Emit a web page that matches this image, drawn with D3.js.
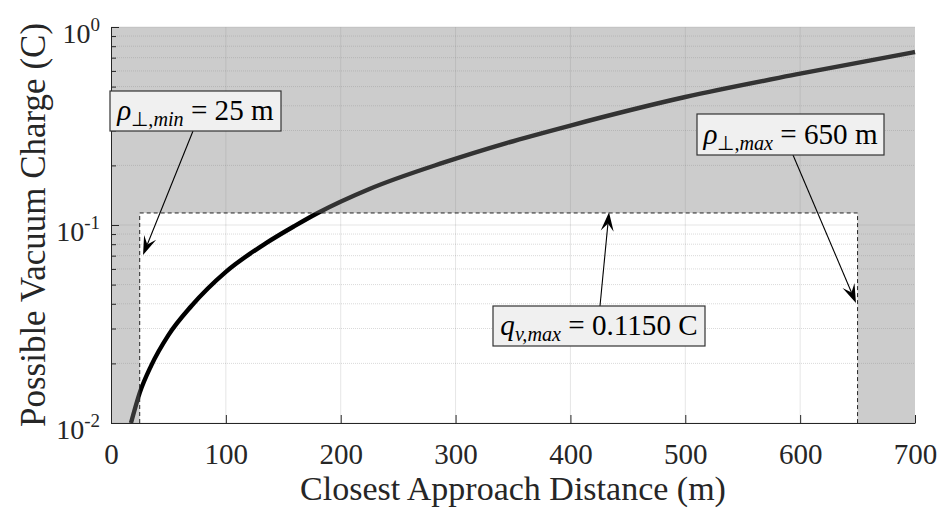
<!DOCTYPE html>
<meta charset="utf-8">
<head>
<title>Vacuum charge</title>
<script src="https://d3js.org/d3.v7.min.js"></script>
<style>
  body { margin: 0; background: #fff; }
  text { font-family: "Liberation Serif", "Times New Roman", serif; fill: #262626; }
</style>
</head>
<body>
<div id="chart"></div>
<script>

// values
let distance = [17.4, 25, 35, 50, 70, 100, 135, 160, 180, 225, 290, 345, 400, 500, 600, 700];
let charge = [0.0100, 0.0142, 0.0195, 0.0278, 0.0390, 0.0580, 0.0810, 0.0990, 0.1150, 0.1520, 0.2070, 0.2600, 0.3180, 0.4430, 0.5810, 0.7480];
let rhoMin = 25;
let rhoMax = 650;
let qMax = 0.115;
let xTicks = [0, 100, 200, 300, 400, 500, 600, 700];
let yDecades = [0.01, 0.1, 1];
let yExponents = ["-2", "-1", "0"];

let w = 940, h = 508;
let pLeft = 111, pRight = 915, pTop = 27, pBottom = 423;

let svg = d3.select("#chart").append("svg")
    .attr("width", w)
    .attr("height", h);

let x = d3.scaleLinear().domain([0, 700]).range([pLeft, pRight]);
let y = d3.scaleLog().domain([0.01, 1]).range([pBottom, pTop]);

// grid
let grid = svg.append("g");
let minor = y.ticks().filter(v => yDecades.indexOf(v) < 0);
grid.selectAll(".minor")
    .data(minor)
    .enter()
    .append("line")
    .attr("x1", pLeft).attr("x2", pRight)
    .attr("y1", d => y(d)).attr("y2", d => y(d))
    .style("stroke", "#000")
    .style("stroke-opacity", 0.15)
    .style("stroke-dasharray", "1,1");
grid.selectAll(".hmaj")
    .data(yDecades)
    .enter()
    .append("line")
    .attr("x1", pLeft).attr("x2", pRight)
    .attr("y1", d => y(d)).attr("y2", d => y(d))
    .style("stroke", "#000")
    .style("stroke-opacity", 0.1);
grid.selectAll(".vmaj")
    .data(xTicks.slice(1, -1))
    .enter()
    .append("line")
    .attr("x1", d => x(d)).attr("x2", d => x(d))
    .attr("y1", pTop).attr("y2", pBottom)
    .style("stroke", "#000")
    .style("stroke-opacity", 0.1);

// curve
let pts = distance.map((d, i) => [d, charge[i]]);
let line = d3.line()
    .x(d => x(d[0]))
    .y(d => y(d[1]))
    .curve(d3.curveMonotoneX);
svg.append("path")
    .datum(pts)
    .attr("d", line)
    .style("fill", "none")
    .style("stroke", "#000")
    .style("stroke-width", 4.4);

// grey region outside the allowed rectangle
let outer = "M" + pLeft + "," + pTop + "H" + pRight + "V" + pBottom + "H" + pLeft + "Z";
let inner = "M" + x(rhoMin) + "," + y(qMax) + "H" + x(rhoMax) + "V" + pBottom + "H" + x(rhoMin) + "Z";
svg.append("path")
    .attr("d", outer + inner)
    .style("fill-rule", "evenodd")
    .style("fill", "#808080")
    .style("fill-opacity", 0.4);

// dashed rectangle
svg.append("path")
    .attr("d", "M" + x(rhoMin) + "," + pBottom + "V" + y(qMax) + "H" + x(rhoMax) + "V" + pBottom)
    .style("fill", "none")
    .style("stroke", "#222")
    .style("stroke-width", 1)
    .style("stroke-dasharray", "4,3");

// axes
let xAxis = svg.append("g")
    .attr("transform", "translate(0," + pBottom + ")")
    .call(d3.axisBottom(x).tickValues(xTicks).tickSizeInner(-8).tickSizeOuter(0).tickPadding(20));
xAxis.selectAll("text").style("font-size", "29px").style("fill", "#262626");

let yMinorAxis = svg.append("g")
    .attr("transform", "translate(" + pLeft + ",0)")
    .call(d3.axisLeft(y).tickValues(minor).tickSizeInner(-5).tickSizeOuter(0).tickFormat(""));
let yAxis = svg.append("g")
    .attr("transform", "translate(" + pLeft + ",0)")
    .call(d3.axisLeft(y).tickValues(yDecades).tickSizeInner(-8).tickSizeOuter(0).tickFormat(""));
svg.selectAll(".domain, .tick line").style("stroke", "#262626");

let yLab = svg.selectAll(".ylab")
    .data(yDecades)
    .enter()
    .append("text")
    .attr("x", 100)
    .attr("y", d => y(d) + 16)
    .attr("text-anchor", "end");
yLab.append("tspan").style("font-size", "28px").text("10");
yLab.append("tspan")
    .style("font-size", "19px")
    .attr("dy", -12)
    .text((d, i) => yExponents[i]);

// axis titles
svg.append("text")
    .attr("x", (pLeft + pRight) / 2)
    .attr("y", 500)
    .attr("text-anchor", "middle")
    .style("font-size", "34px")
    .text("Closest Approach Distance (m)");
svg.append("text")
    .attr("transform", "translate(33," + (pTop + pBottom) / 2 + ") rotate(-90)")
    .attr("y", 0)
    .attr("dy", "0.35em")
    .attr("text-anchor", "middle")
    .style("font-size", "35px")
    .text("Possible Vacuum Charge (C)");

// annotations: box [x, y, w, h], tail point, tip in data coords
let notes = [
    {box: [110, 91, 171, 40], tail: [193, 131], tip: [27.9, 0.0705],
     parts: [["ρ", "i", 0], ["⊥,", "n", 1], ["min", "i", 1], [" = 25 m", "n", 0]]},
    {box: [697, 114, 187, 41], tail: [793, 155], tip: [648.6, 0.0404],
     parts: [["ρ", "i", 0], ["⊥,", "n", 1], ["max", "i", 1], [" = 650 m", "n", 0]]},
    {box: [493, 306, 212, 40], tail: [600, 306], tip: [433.6, 0.116],
     parts: [["q", "i", 0], ["v,", "i", 1], ["max", "i", 1], [" = 0.1150 C", "n", 0]]}
];

notes.forEach(n => {
    let tx = x(n.tip[0]), ty = y(n.tip[1]);
    let ang = Math.atan2(ty - n.tail[1], tx - n.tail[0]);
    let L = 19, W = 13;
    svg.append("line")
        .attr("x1", n.tail[0]).attr("y1", n.tail[1])
        .attr("x2", tx - Math.cos(ang) * L * 0.6).attr("y2", ty - Math.sin(ang) * L * 0.6)
        .style("stroke", "#000")
        .style("stroke-width", 1.1);
    svg.append("path")
        .attr("d", "M0,0L" + (-L) + "," + (-W / 2) + "L" + (-L * 0.6) + ",0L" + (-L) + "," + (W / 2) + "Z")
        .attr("transform", "translate(" + tx + "," + ty + ") rotate(" + ang * 180 / Math.PI + ")")
        .style("fill", "#000");

    svg.append("rect")
        .attr("x", n.box[0]).attr("y", n.box[1])
        .attr("width", n.box[2]).attr("height", n.box[3])
        .style("fill", "#f0f0f0")
        .style("stroke", "#333")
        .style("stroke-width", 1.2);
    let t = svg.append("text")
        .attr("x", n.box[0] + n.box[2] / 2)
        .attr("y", n.box[1] + n.box[3] / 2 + 9)
        .attr("text-anchor", "middle")
        .style("fill", "#000")
        .style("white-space", "pre");
    let prev = 0;
    n.parts.forEach(p => {
        let shift = p[2] ? 6 : 0;
        t.append("tspan")
            .attr("class", p[2] ? "sub" : "main")
            .attr("dy", shift - prev)
            .style("font-style", p[1] == "i" ? "italic" : "normal")
            .style("font-size", p[2] ? "18px" : "26px")
            .text(p[0]);
        prev = shift;
    });
    // fit the text into the box
    let k = (n.box[2] - 10) / t.node().getComputedTextLength();
    k = Math.min(k, 1.12);
    t.selectAll(".main").style("font-size", (26 * k) + "px");
    t.selectAll(".sub").style("font-size", (18 * k) + "px");
});

</script>
</body>
